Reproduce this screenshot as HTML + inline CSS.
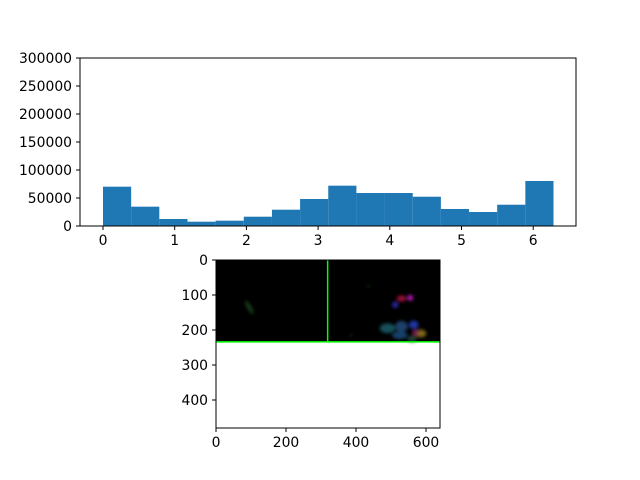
<!DOCTYPE html>
<html><head><meta charset="utf-8"><style>
body{margin:0;background:#fff;}
svg{display:block;font-family:"DejaVu Sans","Liberation Sans",sans-serif;}
</style></head><body>
<svg id="c" width="640" height="480" viewBox="0 0 640 480">
<defs><filter id="bl" x="-50%" y="-50%" width="200%" height="200%"><feGaussianBlur stdDeviation="1.5"/></filter>
<clipPath id="imclip"><rect x="216" y="260" width="224" height="168"/></clipPath></defs>
<g id="hist"></g>
<g id="img"></g>
</svg>
<script>
const binValues=[70200,34500,12500,7700,9500,16600,29100,48200,72000,58900,58900,52300,30400,25000,38000,80400];
const xTicks=[0,1,2,3,4,5,6];
const yTicks=[0,50000,100000,150000,200000,250000,300000];
const imgXTicks=[0,200,400,600];
const imgYTicks=[0,100,200,300,400];
const NS="http://www.w3.org/2000/svg";
function mk(p,t,a,txt){const e=document.createElementNS(NS,t);for(const k in a)e.setAttribute(k,a[k]);if(txt!==undefined)e.textContent=txt;p.appendChild(e);return e;}
const H=document.getElementById('hist');
const X0=80,X1=576,Y0=58,Y1=226;
const xs=v=>103+v*71.7;
const ys=v=>Y1-v/300000*(Y1-Y0);
const bw=2*Math.PI/binValues.length;
binValues.forEach((v,i)=>{
 const r=mk(H,'rect',{x:xs(i*bw),y:ys(v),width:xs((i+1)*bw)-xs(i*bw),height:Y1-ys(v),fill:'#1f77b4'});
 
 
});
const f=mk(H,'rect',{x:X0,y:Y0,width:X1-X0,height:Y1-Y0,fill:'none',stroke:'#000','stroke-width':1});

xTicks.forEach(t=>{mk(H,'line',{x1:xs(t),x2:xs(t),y1:Y1,y2:Y1+4,stroke:'#000'});
 const l=mk(H,'text',{x:xs(t),y:Y1+19,'text-anchor':'middle','font-size':13.9},String(t));
 });
yTicks.forEach(t=>{mk(H,'line',{x1:X0-4,x2:X0,y1:ys(t),y2:ys(t),stroke:'#000'});
 const l=mk(H,'text',{x:X0-8,y:ys(t)+5,'text-anchor':'end','font-size':13.9},String(t));
 });
const G=document.getElementById('img');
const IX=216,IY=260,S=0.35;
const ix=v=>IX+v*S, iy=v=>IY+v*S;
mk(G,'rect',{x:IX,y:IY,width:224,height:iy(234)-IY,fill:'#000'});
const bl=mk(G,'g',{filter:'url(#bl)','clip-path':'url(#imclip)'});
[[95,135,7,22,'#183418',-30],[435,75,5,5,'#0c220c',0],[530,110,14,9,'#901030',0],[555,108,9,9,'#a018a0',0],[512,128,9,9,'#2828a0',0],
 [490,195,22,14,'#15505a',0],[530,190,18,16,'#1a4068',0],[565,185,14,12,'#1a36a0',0],[525,215,22,11,'#15406a',0],[585,210,16,11,'#806818',0],
 [570,208,9,9,'#801a50',0],[560,225,14,9,'#1a4034',0],[385,215,5,5,'#281028',0]].forEach(b=>{
 mk(bl,'ellipse',{cx:ix(b[0]),cy:iy(b[1]),rx:b[2]*S,ry:b[3]*S,fill:b[4],transform:`rotate(${b[5]} ${ix(b[0])} ${iy(b[1])})`});});
mk(G,'line',{x1:ix(319),x2:ix(319),y1:IY,y2:iy(234),stroke:'#00ff00','stroke-width':1.5});
mk(G,'line',{x1:IX,x2:IX+224,y1:iy(234),y2:iy(234),stroke:'#00ff00','stroke-width':1.5});
mk(G,'rect',{x:IX,y:IY,width:224,height:168,fill:'none',stroke:'#000'});
imgXTicks.forEach(t=>{mk(G,'line',{x1:ix(t),x2:ix(t),y1:428,y2:432,stroke:'#000'});
 const l=mk(G,'text',{x:ix(t),y:447,'text-anchor':'middle','font-size':13.9},String(t));
 });
imgYTicks.forEach(t=>{mk(G,'line',{x1:IX-4,x2:IX,y1:iy(t),y2:iy(t),stroke:'#000'});
 const l=mk(G,'text',{x:IX-8,y:iy(t)+5,'text-anchor':'end','font-size':13.9},String(t));
 });
</script>
</body></html>
